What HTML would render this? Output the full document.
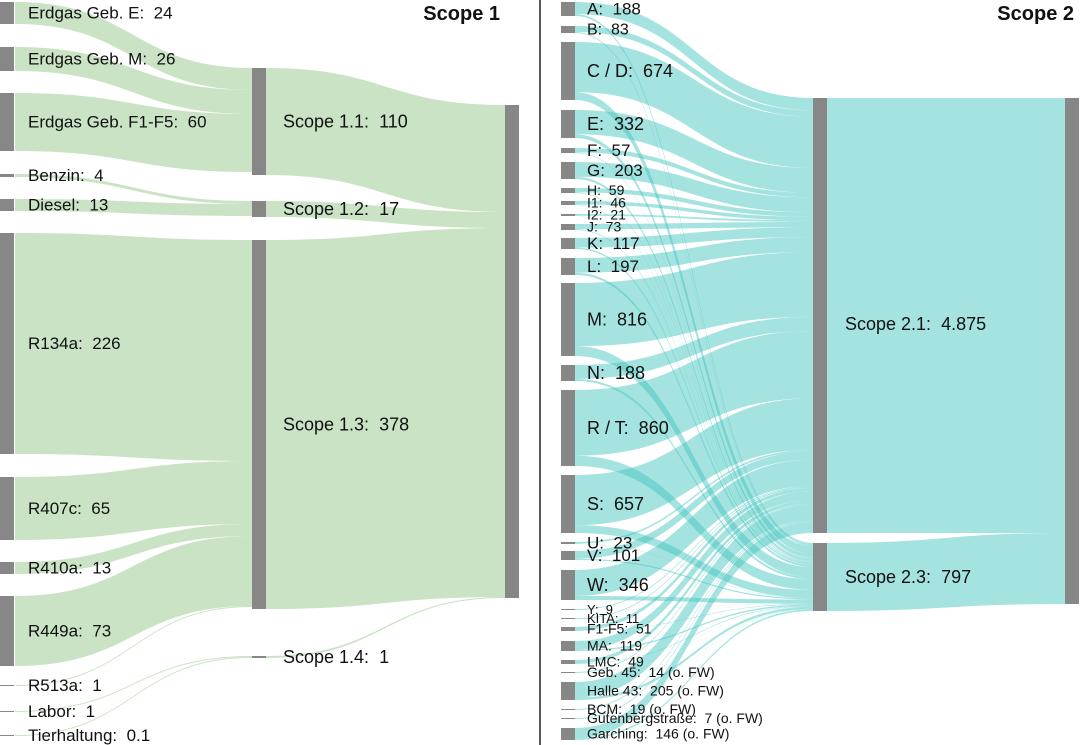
<!DOCTYPE html>
<html><head><meta charset="utf-8"><style>
html,body{margin:0;padding:0;background:#fff}
svg{display:block}
text{font-family:"Liberation Sans",sans-serif;fill:#111;white-space:pre}
</style></head><body>
<svg id="s" width="1080" height="745" viewBox="0 0 1080 745" xmlns="http://www.w3.org/2000/svg" xml:space="preserve">
<g id="links"></g>
<g id="bars" fill="#878787"></g>
<g id="labels"></g>
<line x1="540" y1="0" x2="540" y2="745" stroke="#222" stroke-width="1.5"/>
<text x="500" y="20" font-size="20" font-weight="bold" text-anchor="end">Scope 1</text>
<text x="1074" y="20" font-size="20" font-weight="bold" text-anchor="end">Scope 2</text>
</svg>
<script>
var NS="http://www.w3.org/2000/svg";
var L=document.getElementById('links'),B=document.getElementById('bars'),T=document.getElementById('labels');
function el(p,tag,a,txt){var e=document.createElementNS(NS,tag);for(var k in a)e.setAttribute(k,a[k]);if(txt)e.textContent=txt;p.appendChild(e);return e;}
function band(x0,a0,b0,x1,a1,b1,fill,op){
 var m=(x0+x1)/2;
 var d="M"+x0+","+a0+"C"+m+","+a0+" "+m+","+a1+" "+x1+","+a1+"L"+x1+","+b1+"C"+m+","+b1+" "+m+","+b0+" "+x0+","+b0+"Z";
 el(L,'path',{d:d,fill:fill,'fill-opacity':op});
}
function bar(x,y0,y1){el(B,'rect',{x:x,y:y0,width:14,height:Math.max(1,y1-y0)});}
function lab(x,y,s,fs){el(T,'text',{x:x,y:y,'font-size':fs,'dominant-baseline':'middle'},s);}
var G="rgb(150,200,140)",GO=0.5;
var s1=[["Erdgas Geb. E:  24",2,24,0],["Erdgas Geb. M:  26",47,71,0],["Erdgas Geb. F1-F5:  60",93,151,0],
["Benzin:  4",174,177,1],["Diesel:  13",199,211,1],["R134a:  226",233,454,2],["R407c:  65",477,540,2],
["R410a:  13",562,574,2],["R449a:  73",596,666,2],["R513a:  1",685,686,2],["Labor:  1",711,712,3],["Tierhaltung:  0.1",735,736,3]];
var mid=[["Scope 1.1:  110",68,175],["Scope 1.2:  17",201,217],["Scope 1.3:  378",240,609],["Scope 1.4:  1",656,658]];
var off=mid.map(function(m){return m[1];});
s1.forEach(function(n){var h=n[2]-n[1];var t=n[3];band(15,n[1],n[2],252,off[t],off[t]+h,G,GO);off[t]+=h;});
var ry=105;
mid.forEach(function(m,i){var h=m[2]-m[1];if(i==3){band(266,m[1],m[2],505,597,598,G,GO);}else{band(266,m[1],m[2],505,ry,ry+h,G,GO);ry+=h;}});
s1.forEach(function(n){bar(0,n[1],n[2]);lab(28,(n[1]+n[2])/2+1,n[0],17);});
mid.forEach(function(m){bar(252,m[1],m[2]);lab(283,(m[1]+m[2])/2+1,m[0],18);});
bar(505,105,598);
var C="rgb(64,196,190)",CO=0.47;
var s2=[["A:  188",2,16,17],["B:  83",26,33,16],["C / D:  674",42,100,18],["E:  332",110,138,18],["F:  57",148,153,17],["G:  203",162,179,17],
["H:  59",188,193,14],["I1:  46",201,205,14],["I2:  21",214,216,14],["J:  73",224,230,14],["K:  117",238,249,17],["L:  197",258,275,17],
["M:  816",283,356,18],["N:  188",365,381,18],["R / T:  860",390,466,18],["S:  657",475,533,18],["U:  23",542,544,17],["V:  101",551,560,17],
["W:  346",570,600,18],["Y:  9",609,610,13],["KITA:  11",618,619,13],["F1-F5:  51",627,631,14],["MA:  119",641,651,14],["LMC:  49",660,664,14],
["Geb. 45:  14 (o. FW)",672,673,14],["Halle 43:  205 (o. FW)",682,700,14],["BCM:  19 (o. FW)",709,710,14],["Gutenbergstraße:  7 (o. FW)",718,719,14],["Garching:  146 (o. FW)",728,740,14]];
var tot=0;s2.forEach(function(n){tot+=n[2]-n[1];});
var k1=435/tot,k2=68/tot,o1=98,o2=543;
s2.forEach(function(n){var h=n[2]-n[1];var h1=h*0.865;
 band(575,n[1],n[1]+h1,813,o1,o1+h*k1,C,CO);o1+=h*k1;
 band(575,n[1]+h1,n[2],813,o2,o2+h*k2,C,CO);o2+=h*k2;});
band(827,98,533,1065,98,533,C,CO);band(827,543,611,1065,533,604,C,CO);
s2.forEach(function(n){bar(561,n[1],n[2]);lab(587,(n[1]+n[2])/2+1,n[0],n[3]);});
bar(813,98,533);bar(813,543,611);bar(1065,98,604);
lab(845,325,"Scope 2.1:  4.875",18);lab(845,578,"Scope 2.3:  797",18);
</script>
</body></html>
